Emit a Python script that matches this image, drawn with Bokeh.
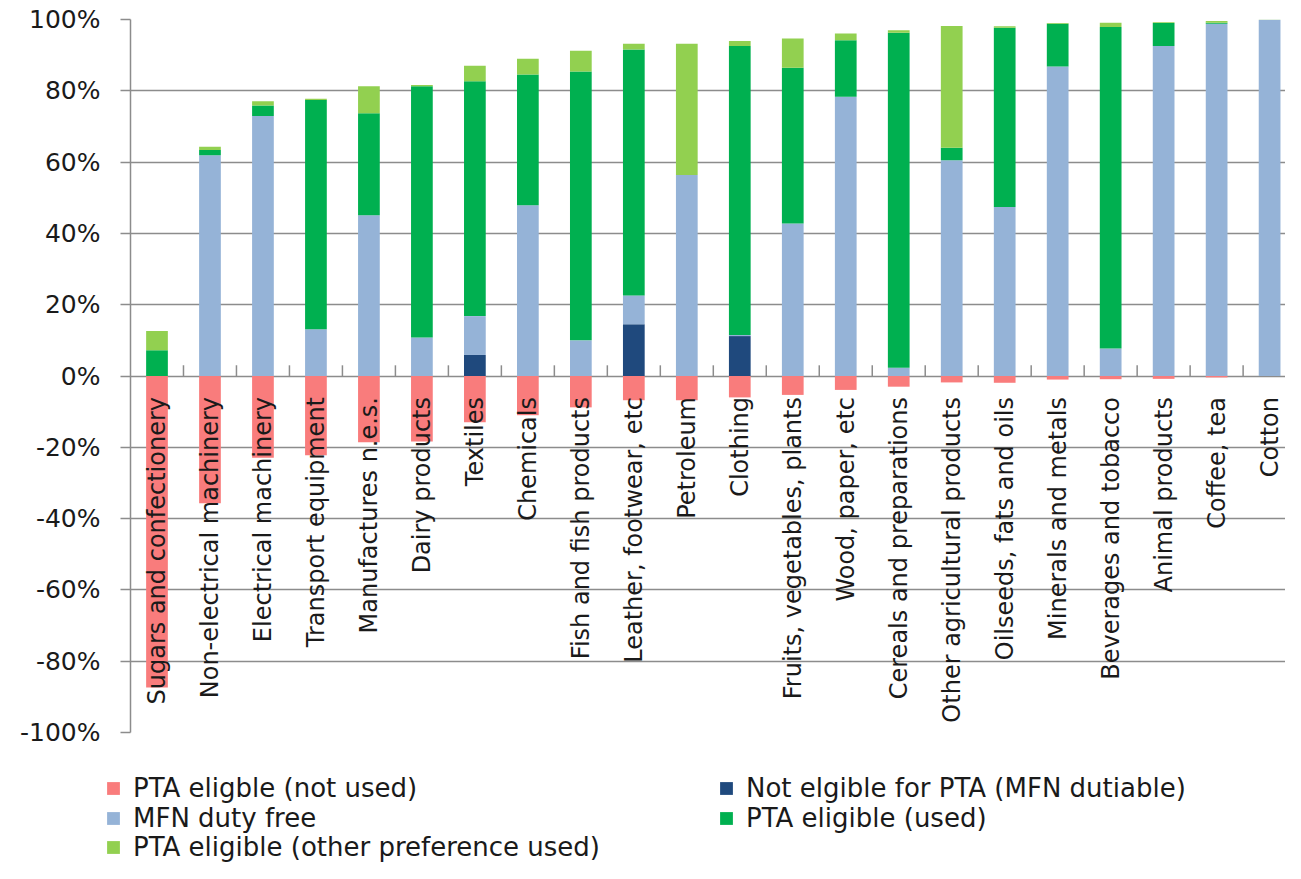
import numpy as np
from bokeh.plotting import figure
from bokeh.layouts import column, row
from bokeh.models import ColumnDataSource, Legend, LegendItem, FixedTicker, PrintfTickFormatter, Range1d
from bokeh.core.properties import value
from bokeh.embed import file_html
from bokeh.resources import INLINE

categories = ["Sugars and confectionery", "Non-electrical machinery", "Electrical machinery",
              "Transport equipment", "Manufactures n.e.s.", "Dairy products", "Textiles",
              "Chemicals", "Fish and fish products", "Leather, footwear, etc", "Petroleum",
              "Clothing", "Fruits, vegetables, plants", "Wood, paper, etc",
              "Cereals and preparations", "Other agricultural products", "Oilseeds, fats and oils",
              "Minerals and metals", "Beverages and tobacco", "Animal products", "Coffee, tea",
              "Cotton"]

not_eligible = [0, 0, 0, 0, 0, 0, 5.9, 0, 0, 14.5, 0, 11.2, 0, 0, 0, 0, 0, 0, 0, 0, 0, 0]
mfn_free = [0, 61.9, 72.9, 13.1, 45.1, 10.8, 10.9, 47.9, 10.0, 8.1, 56.4, 0.3, 42.8, 78.3,
            2.3, 60.5, 47.4, 86.8, 7.7, 92.6, 98.8, 99.9]
pta_used = [7.2, 1.5, 3.0, 64.3, 28.6, 70.5, 65.9, 36.7, 75.4, 69.0, 0, 81.1, 43.7, 15.9,
            94.0, 3.5, 50.3, 12.0, 90.2, 6.4, 0.3, 0]
pta_other = [5.4, 0.9, 1.2, 0.4, 7.6, 0.3, 4.3, 4.4, 5.8, 1.6, 36.8, 1.4, 8.2, 1.9,
             0.7, 34.2, 0.4, 0.2, 1.2, 0.2, 0.5, 0.1]
pta_not_used = [-87.4, -35.7, -22.9, -22.2, -18.6, -18.4, -13.0, -11.0, -8.8, -6.8, -6.8,
                -6.0, -5.3, -3.9, -3.0, -1.8, -1.9, -1.0, -0.9, -0.8, -0.4, 0]

y_ticks = [-100, -80, -60, -40, -20, 0, 20, 40, 60, 80, 100]

label_not_used = "PTA eligble (not used)"
label_not_eligible = "Not elgible for PTA (MFN dutiable)"
label_mfn = "MFN duty free"
label_used = "PTA eligible (used)"
label_other = "PTA eligible (other preference used)"

C_NOT_USED = "#F97C7C"
C_NOT_ELIG = "#1F497D"
C_MFN = "#95B3D7"
C_USED = "#00B050"
C_OTHER = "#92D050"
GRID = "#8C8C8C"
FONT = "DejaVu Sans"
TXT = "#1A1A1A"

W = 1285
H_MAIN = 748
H_LEG = 115
FRAME_LEFT = 130

n = len(categories)
xs = list(range(n))
src = ColumnDataSource(dict(x=xs, cat=categories, nb=not_eligible, lb=mfn_free,
                            g=pta_used, lg=pta_other, nu=pta_not_used))
tick_src = ColumnDataSource(dict(bx=[i + 0.5 for i in xs[:-1]]))

p = figure(width=W, height=H_MAIN, x_range=Range1d(-0.5, 21.3), y_range=Range1d(-100, 100),
           output_backend="svg", toolbar_location=None,
           min_border_left=FRAME_LEFT, min_border_right=0, min_border_top=19,
           min_border_bottom=H_MAIN - 732)
p.outline_line_color = None
p.xaxis.visible = False
p.xgrid.visible = False
p.ygrid.ticker = FixedTicker(ticks=y_ticks)
p.ygrid.grid_line_color = GRID
p.ygrid.grid_line_width = 1.5

ax = p.yaxis[0]
ax.ticker = FixedTicker(ticks=y_ticks)
ax.formatter = PrintfTickFormatter(format="%d%%")
ax.axis_line_color = GRID
ax.axis_line_width = 1.5
ax.major_tick_line_color = GRID
ax.major_tick_line_width = 1.5
ax.major_tick_out = 10
ax.major_tick_in = 0
ax.minor_tick_out = 0
ax.minor_tick_in = 0
ax.major_label_standoff = 20
ax.major_label_text_font = FONT
ax.major_label_text_font_size = "25px"
ax.major_label_text_color = TXT

p.vbar_stack(["nb", "lb", "g", "lg"], x="x", width=0.41, source=src,
             fill_color=[C_NOT_ELIG, C_MFN, C_USED, C_OTHER], line_color=None)
p.vbar(x="x", top=0, bottom="nu", width=0.41, source=src,
       fill_color=C_NOT_USED, line_color=None)

p.segment(x0="bx", y0=0, x1="bx", y1=3, source=tick_src, line_color=GRID, line_width=1.5)

p.text(x="x", y=0, text="cat", source=src, angle=np.pi / 2, text_align="right",
       text_baseline="middle", y_offset=21, text_font=value(FONT), text_font_size="24px",
       text_color=TXT)

# legend panel (swatch renderers share the data but draw zero-size bars)
pl = figure(width=W, height=H_LEG, output_backend="svg", toolbar_location=None,
            x_axis_location=None, y_axis_location=None, min_border=0)
pl.outline_line_color = None
pl.grid.visible = False

ITEM_H = 31
legend_spec = [
    (label_not_used, C_NOT_USED, 105, 40),
    (label_mfn, C_MFN, 105, 70),
    (label_other, C_OTHER, 105, 99),
    (label_not_eligible, C_NOT_ELIG, 718, 40),
    (label_used, C_USED, 718, 70),
]
for lab, col, lx, cy in legend_spec:
    r = pl.vbar(x="x", top=0, bottom=0, width=0, source=src, fill_color=col, line_color=None)
    lg = Legend(items=[LegendItem(label=lab, renderers=[r])],
                location=(lx, H_LEG - cy - ITEM_H / 2))
    lg.border_line_color = None
    lg.background_fill_alpha = 0
    lg.padding = 0
    lg.margin = 0
    lg.glyph_width = 16
    lg.glyph_height = 16
    lg.label_height = ITEM_H
    lg.label_standoff = 12
    lg.label_text_font = FONT
    lg.label_text_font_size = "26px"
    lg.label_text_color = TXT
    lg.label_text_baseline = "middle"
    pl.add_layout(lg)

layout = column(p, row(pl, spacing=0), spacing=0)
open("out.html", "w").write(file_html(layout, INLINE))
